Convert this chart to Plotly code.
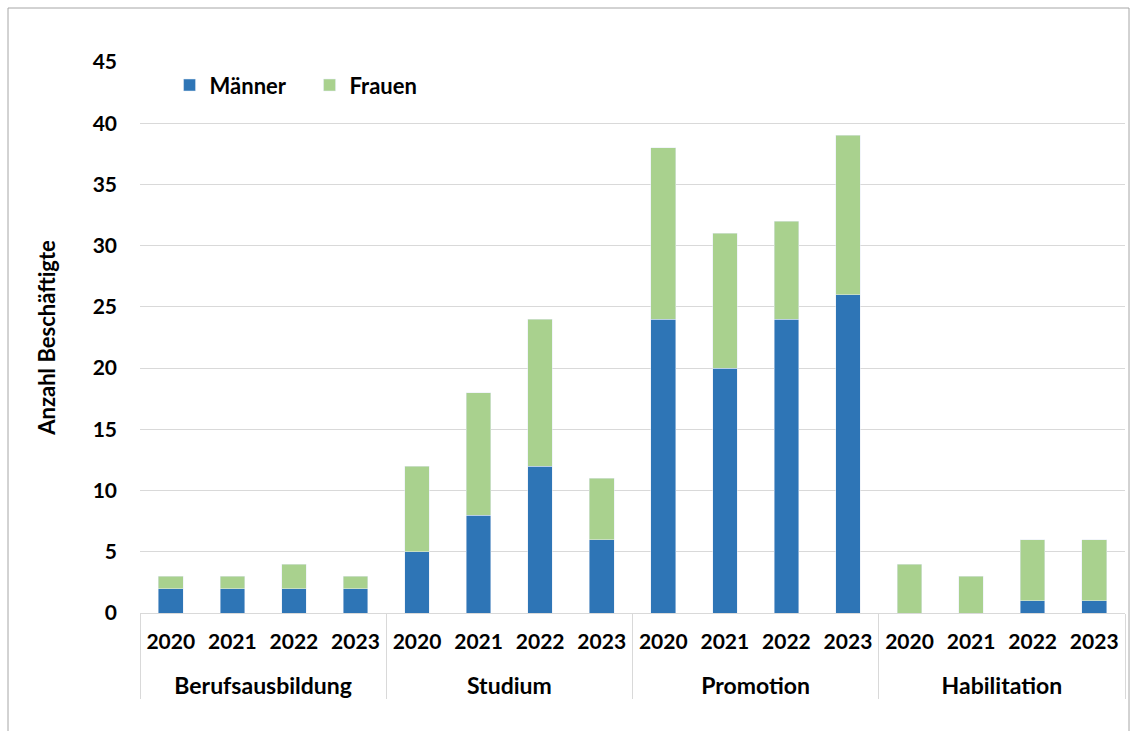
import plotly.graph_objects as go

group_names = ["Berufsausbildung", "Studium", "Promotion", "Habilitation"]
year_names = ["2020", "2021", "2022", "2023"]
maenner = [2, 2, 2, 2, 5, 8, 12, 6, 24, 20, 24, 26, 0, 0, 1, 1]
frauen = [1, 1, 2, 1, 7, 10, 12, 5, 14, 11, 8, 13, 4, 3, 5, 5]

groups = ["<br><span style='font-size:23px'>" + g + "</span>" for g in group_names for _ in year_names]
years = year_names * len(group_names)

FONT = "Lato"
fig = go.Figure()
fig.add_trace(go.Bar(x=[groups, years], y=maenner, name="Männer", marker_color="#2E75B6"))
fig.add_trace(go.Bar(x=[groups, years], y=frauen, name="Frauen", marker_color="#A9D18E"))

L, R, T, B = 140, 5, 62, 118
W, H = 1130, 731
pw, ph = W - L - R, H - T - B

fig.update_layout(
    width=W, height=H,
    barmode="stack", bargap=0.6,
    margin=dict(l=L, r=R, t=T, b=B),
    plot_bgcolor="white", paper_bgcolor="white",
    font=dict(family=FONT, size=20, color="black"),
    legend=dict(orientation="h", x=0.03, y=0.996, xanchor="left", yanchor="top",
                font=dict(family=FONT, size=22, color="black", weight="bold"),
                bgcolor="rgba(0,0,0,0)", itemwidth=30, traceorder="normal",
                entrywidth=95, entrywidthmode="pixels"),
    showlegend=True,
)
fig.update_xaxes(type="multicategory", showline=True, linecolor="#d9d9d9", linewidth=1,
                 showdividers=True, dividercolor="#d9d9d9", dividerwidth=1,
                 tickfont=dict(family=FONT, size=21, color="black", weight="bold"),
                 ticklabelstandoff=10,
                 showgrid=False)
fig.update_yaxes(range=[0, 45], dtick=5, showgrid=True, gridcolor="#d9d9d9", gridwidth=1,
                 zeroline=False, showline=False,
                 tickfont=dict(family=FONT, size=21, color="black", weight="bold"),
                 ticklabelstandoff=22,
                 title=dict(text="Anzahl Beschäftigte", standoff=30,
                            font=dict(family=FONT, size=22, color="black", weight="bold")))

# outer frame
x0 = (8 - L) / pw
x1 = (1129 - L) / pw
ytop = (H - B - 8) / ph
ybot = (H - B - 740) / ph
fig.add_shape(type="rect", xref="paper", yref="paper", x0=x0, x1=x1, y0=ybot, y1=ytop,
              line=dict(color="#a6a6a6", width=1), layer="below")

fig.write_html("out.html")
